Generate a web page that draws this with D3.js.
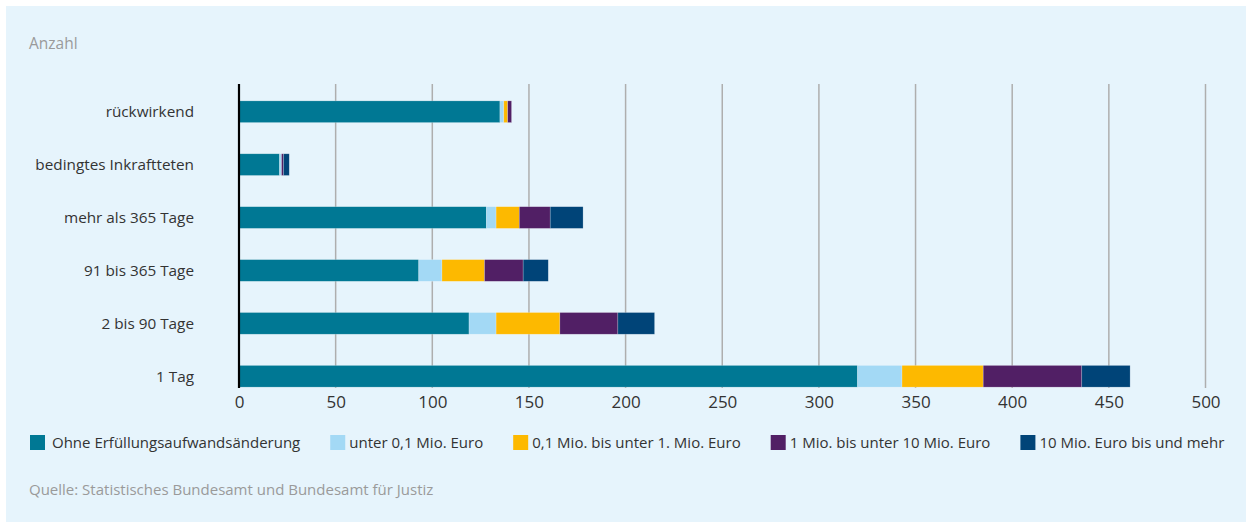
<!DOCTYPE html>
<html><head><meta charset="utf-8">
<script src="https://cdn.jsdelivr.net/npm/d3@7"></script>
<style>
html,body{margin:0;padding:0;background:#fff;}
svg{display:block;}
text{font-family:"Open Sans",sans-serif;}
</style></head>
<body>
<svg id="c" width="1246" height="522"></svg>
<script>
const categories = ["rückwirkend","bedingtes Inkraftteten","mehr als 365 Tage","91 bis 365 Tage","2 bis 90 Tage","1 Tag"];
const seriesNames = ["Ohne Erfüllungsaufwandsänderung","unter 0,1 Mio. Euro","0,1 Mio. bis unter 1. Mio. Euro","1 Mio. bis unter 10 Mio. Euro","10 Mio. Euro bis und mehr"];
const ohne      = [135, 21, 128, 93, 119, 320];
const unter01   = [2, 1, 5, 12, 14, 23];
const bis1      = [2, 0, 12, 22, 33, 42];
const bis10     = [2, 1, 16, 20, 30, 51];
const ab10      = [0, 3, 17, 13, 19, 25];
const colors = ["#007894","#a3d9f5","#fdb900","#511f65","#004478"];
const xTicks = [0,50,100,150,200,250,300,350,400,450,500];
const title = "Anzahl";
const source = "Quelle: Statistisches Bundesamt und Bundesamt für Justiz";

const seriesValues = [ohne, unter01, bis1, bis10, ab10];
const rows = categories.map((c,i)=>{const r={cat:c}; seriesValues.forEach((s,j)=>r["s"+j]=s[i]); return r;});
const keys = seriesNames.map((_,j)=>"s"+j);
const stacked = d3.stack().keys(keys)(rows);

const svg = d3.select("#c");
svg.append("rect").attr("x",6).attr("y",6).attr("width",1240).attr("height",516).attr("fill","#e6f4fc");

const x = d3.scaleLinear().domain([0,500]).range([239,1205.5]);
const y = d3.scaleBand().domain(categories).range([85,403]).paddingInner(0.59).paddingOuter(0.3);

svg.append("text").attr("x",29).attr("y",49).attr("fill","#9a9a9a").attr("font-size",15.5).text(title);

// grid
svg.append("g").selectAll("line").data(xTicks.slice(1)).join("line")
  .attr("x1",d=>x(d)).attr("x2",d=>x(d)).attr("y1",84).attr("y2",388)
  .attr("stroke","#aeaeae").attr("stroke-width",1.5);

// bars
svg.append("g").selectAll("g").data(stacked).join("g").attr("fill",(d,i)=>colors[i])
  .selectAll("rect").data(d=>d).join("rect")
  .attr("x",d=>x(d[0])).attr("width",d=>x(d[1])-x(d[0]))
  .attr("y",d=>y(d.data.cat)).attr("height",y.bandwidth())
  .attr("stroke","rgba(255,255,255,0.35)").attr("stroke-width",0.6);

// y axis line
svg.append("line").attr("x1",x(0)).attr("x2",x(0)).attr("y1",84).attr("y2",388).attr("stroke","#000").attr("stroke-width",2.2);

// category labels
svg.append("g").selectAll("text").data(categories).join("text")
  .attr("x",194).attr("y",d=>y(d)+y.bandwidth()/2).attr("dy","0.35em").attr("text-anchor","end")
  .attr("font-size",15.3).attr("fill","#333").text(d=>d);

// x tick labels
const xa = d3.axisBottom(x).tickValues(xTicks).tickSize(0).tickPadding(0);
const gx = svg.append("g").attr("transform","translate(0,396)").call(xa);
gx.select(".domain").remove();
gx.selectAll("text").attr("font-size",17).attr("fill","#333").attr("font-family","\"Open Sans\",sans-serif").attr("dy","0.71em");

// legend
const lg = svg.append("g").attr("transform","translate(30,435)");
let lx = 0;
seriesNames.forEach((n,i)=>{
  const g = lg.append("g").attr("transform",`translate(${lx},0)`);
  g.append("rect").attr("width",15).attr("height",15).attr("fill",colors[i]);
  const t = g.append("text").attr("x",i===0?22:19).attr("y",7.5).attr("dy","0.35em").attr("font-size",15).attr("fill","#333").text(n);
  lx += (i===0?22:19) + t.node().getComputedTextLength() + 30;
});

svg.append("text").attr("x",29).attr("y",495).attr("fill","#9a9a9a").attr("font-size",15).text(source);
</script>
</body></html>
